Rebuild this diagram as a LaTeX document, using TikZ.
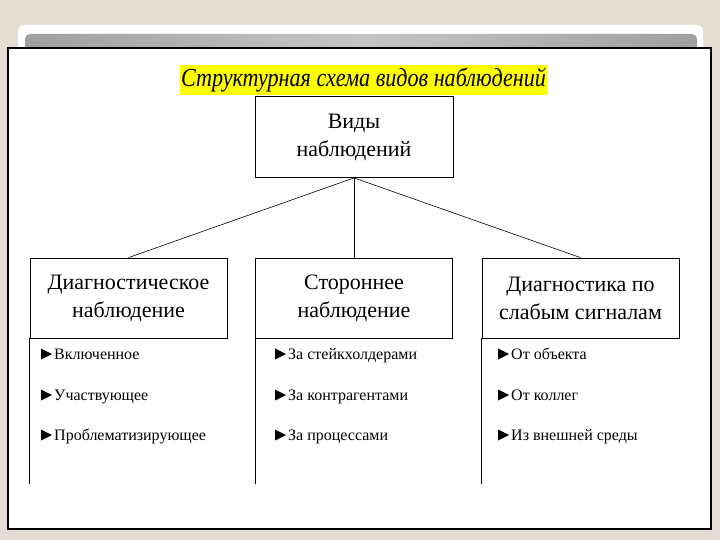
\documentclass[tikz,border=0pt]{standalone}
\usepackage{fontspec}
\setmainfont{Liberation Serif}
\newfontfamily\narrowserif[FakeStretch=0.85]{Liberation Serif}
\usepackage{tikz}
\usetikzlibrary{positioning}
\definecolor{bgbeige}{HTML}{E4DDD4}
\definecolor{hilite}{HTML}{FFFF00}

\begin{document}
\begin{tikzpicture}[x=1pt,y=-1pt,
  box/.style={draw,thick,fill=white,minimum width=197pt,minimum height=80pt,align=center,inner sep=0pt,font=\fontsize{22}{28}\selectfont},
  item/.style={anchor=base west,inner sep=0pt,font=\fontsize{16}{18}\selectfont}]
\useasboundingbox (0,0) rectangle (720,540);
% slide background
\fill[bgbeige] (0,0) rectangle (720,540);
\fill[white,rounded corners=6pt] (18,25) rectangle (703,60);
\shade[left color=gray!75,right color=gray!75,middle color=gray!45,rounded corners=5pt] (25,34) rectangle (697,56);
\draw[line width=1.6pt,fill=white] (8,48) rectangle (711,529);
% title
\node[fill=hilite,inner sep=0pt,minimum width=367pt,minimum height=30pt,font=\narrowserif\fontsize{26}{30}\itshape] (title) at (363.5,80) {Структурная схема видов наблюдений};
% boxes
\node[box,minimum width=198pt,minimum height=81pt] (vidy) at (354,137) {Виды\\наблюдений};
\node[box] (diag) at (128.5,298) {Диагностическое\\наблюдение};
\node[box] (storon) at (354,298) {Стороннее\\наблюдение};
\node[box] (slab) at (580.5,298) {Диагностика по\\слабым сигналам};
\draw[semithick] (vidy.south) -- (diag.north);
\draw[semithick] (vidy.south) -- (storon.north);
\draw[semithick] (vidy.south) -- (slab.north);
\draw[thick] (diag.south west) -- ++(0,146);
\draw[thick] (storon.south west) -- ++(0,146);
\draw[thick] (slab.south west) -- ++(0,146);
% items
\node[item] (d1) at (54,359) {Включенное};
\node[item] (d2) at (54,400) {Участвующее};
\node[item] (d3) at (54,440) {Проблематизирующее};
\node[item] (s1) at (288,359) {За стейкхолдерами};
\node[item] (s2) at (288,400) {За контрагентами};
\node[item] (s3) at (288,440) {За процессами};
\node[item] (g1) at (511,359) {От объекта};
\node[item] (g2) at (511,400) {От коллег};
\node[item] (g3) at (511,440) {Из внешней среды};
% bullets
\foreach \n in {d1,d2,d3,s1,s2,s3,g1,g2,g3}
  \fill ([xshift=-13pt,yshift=-0.5pt]\n.base west) -- ++(0,-11) -- ++(11,5.5) -- cycle;
\end{tikzpicture}
\end{document}
